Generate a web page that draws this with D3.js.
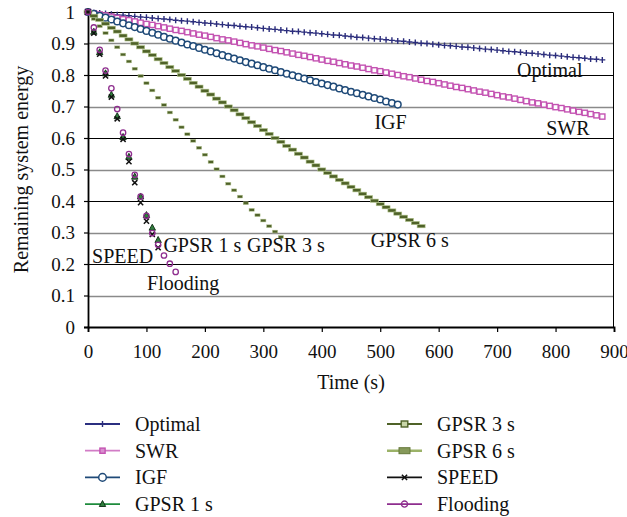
<!DOCTYPE html>
<html>
<head>
<meta charset="utf-8">
<script src="https://cdn.jsdelivr.net/npm/d3@7"></script>
<style>
  body { margin: 0; background: #fff; }
  svg { display: block; font-family: "Liberation Serif", "DejaVu Serif", serif; }
</style>
</head>
<body>
<svg id="chart" width="627" height="517"></svg>
<script>
// sample times (s), every series uses the first N of them
var times = [0,10,20,30,40,50,60,70,80,90,100,110,120,130,140,150,160,170,180,190,
  200,210,220,230,240,250,260,270,280,290,300,310,320,330,340,350,360,370,380,390,
  400,410,420,430,440,450,460,470,480,490,500,510,520,530,540,550,560,570,580,590,
  600,610,620,630,640,650,660,670,680,690,700,710,720,730,740,750,760,770,780,790,
  800,810,820,830,840,850,860,870,880];

var optimal = [1.000,0.998,0.997,0.995,0.993,0.991,0.990,0.988,0.986,0.984,
  0.983,0.981,0.979,0.978,0.976,0.974,0.972,0.971,0.969,0.967,
  0.965,0.964,0.962,0.960,0.958,0.957,0.955,0.953,0.952,0.950,
  0.948,0.946,0.945,0.943,0.941,0.939,0.938,0.936,0.934,0.933,
  0.931,0.929,0.927,0.926,0.924,0.922,0.920,0.919,0.917,0.915,
  0.914,0.912,0.910,0.908,0.907,0.905,0.903,0.901,0.900,0.898,
  0.896,0.894,0.893,0.891,0.889,0.888,0.886,0.884,0.882,0.881,
  0.879,0.877,0.875,0.874,0.872,0.870,0.869,0.867,0.865,0.863,
  0.862,0.860,0.858,0.856,0.855,0.853,0.851,0.850,0.848];

var swr = [1.000,0.996,0.992,0.989,0.985,0.981,0.977,0.974,0.970,0.966,
  0.962,0.959,0.955,0.951,0.947,0.943,0.940,0.936,0.932,0.928,
  0.925,0.921,0.917,0.913,0.910,0.906,0.902,0.898,0.894,0.891,
  0.887,0.883,0.879,0.876,0.872,0.868,0.864,0.861,0.857,0.853,
  0.849,0.845,0.842,0.838,0.834,0.830,0.827,0.823,0.819,0.815,
  0.812,0.808,0.804,0.800,0.796,0.793,0.789,0.785,0.781,0.778,
  0.774,0.770,0.766,0.762,0.759,0.755,0.751,0.747,0.744,0.740,
  0.736,0.732,0.729,0.725,0.721,0.717,0.713,0.710,0.706,0.702,
  0.698,0.695,0.691,0.687,0.683,0.680,0.676,0.672,0.668];

var igf = [1.000,0.994,0.988,0.982,0.976,0.970,0.964,0.958,0.952,0.946,
  0.940,0.934,0.928,0.921,0.915,0.909,0.903,0.897,0.892,0.886,
  0.880,0.875,0.869,0.863,0.858,0.852,0.847,0.841,0.836,0.831,
  0.825,0.820,0.815,0.809,0.804,0.799,0.794,0.789,0.783,0.778,
  0.773,0.768,0.763,0.757,0.752,0.747,0.742,0.737,0.732,0.727,
  0.722,0.716,0.711,0.706];

var gpsr1 = [1.000,0.937,0.872,0.805,0.737,0.669,0.603,0.540,0.477,0.414,0.355,0.315,0.276];

var gpsr3 = [1.000,0.978,0.955,0.933,0.910,0.888,0.865,0.843,0.820,0.797,
  0.774,0.751,0.728,0.705,0.681,0.658,0.634,0.612,0.591,0.569,
  0.547,0.524,0.501,0.478,0.455,0.434,0.414,0.393,0.372,0.355,
  0.338,0.320,0.303,0.286];

var gpsr6 = [1.000,0.988,0.975,0.963,0.950,0.938,0.925,0.913,0.900,0.888,
  0.875,0.863,0.850,0.838,0.825,0.813,0.800,0.788,0.775,0.763,
  0.750,0.738,0.725,0.713,0.700,0.688,0.675,0.663,0.650,0.638,
  0.625,0.613,0.600,0.588,0.575,0.563,0.550,0.538,0.525,0.513,
  0.500,0.489,0.478,0.467,0.456,0.445,0.434,0.423,0.412,0.401,
  0.390,0.380,0.370,0.360,0.350,0.340,0.330,0.320];

var speed = [1.000,0.933,0.866,0.797,0.730,0.661,0.596,0.525,0.458,0.395,0.336,0.294,0.252];

var flooding = [1.000,0.951,0.880,0.814,0.758,0.692,0.617,0.549,0.483,0.414,
  0.353,0.298,0.261,0.227,0.201,0.175];

var seriesNames = ["Optimal", "SWR", "IGF", "GPSR 1 s", "GPSR 3 s", "GPSR 6 s", "SPEED", "Flooding"];
var xTicks = [0, 100, 200, 300, 400, 500, 600, 700, 800, 900];
var yTicks = [0, 0.1, 0.2, 0.3, 0.4, 0.5, 0.6, 0.7, 0.8, 0.9, 1];
var yTickLabels = ["0", "0.1", "0.2", "0.3", "0.4", "0.5", "0.6", "0.7", "0.8", "0.9", "1"];

// label spots in data units (time, energy) for the names written inside the plot
var labelTimes = [734, 784, 490, 129, 272, 484, 7, 101];
var labelValues = [0.794, 0.610, 0.628, 0.239, 0.239, 0.253, 0.202, 0.119];

var svg = d3.select("svg#chart");

var margin = { top: 12, right: 13, bottom: 190, left: 88 };
var plotWidth = 627 - margin.left - margin.right;
var plotHeight = 517 - margin.top - margin.bottom;

var x = d3.scaleLinear().domain([0, 900]).range([0, plotWidth]);
var y = d3.scaleLinear().domain([0, 1]).range([plotHeight, 0]);

var plot = svg.append("g")
    .attr("transform", "translate(" + margin.left + "," + margin.top + ")");

// gridlines, alternating grey and black like the original
plot.append("g").selectAll("line")
    .data(yTicks.slice(1, 10))
    .join("line")
    .attr("x1", 0)
    .attr("x2", plotWidth)
    .attr("y1", function(d) { return Math.round(y(d)) + 0.5; })
    .attr("y2", function(d) { return Math.round(y(d)) + 0.5; })
    .attr("stroke", function(d, i) { return i % 2 == 0 ? "#8a8a8a" : "#000"; })
    .attr("stroke-width", function(d, i) { return i % 2 == 0 ? 1.6 : 1; });

// top and right border
plot.append("path")
    .attr("d", "M0,0.5H" + (plotWidth - 0.5) + "V" + plotHeight)
    .attr("fill", "none")
    .attr("stroke", "#000")
    .attr("stroke-width", 1);

var xAxis = d3.axisBottom(x).tickValues(xTicks).tickSizeOuter(0).tickSize(5).tickPadding(4);
var yAxis = d3.axisLeft(y).tickValues(yTicks).tickSizeOuter(0).tickSize(4).tickPadding(9)
    .tickFormat(function(d, i) { return yTickLabels[i]; });

var xGroup = plot.append("g")
    .attr("transform", "translate(0," + plotHeight + ")")
    .call(xAxis);
var yGroup = plot.append("g").call(yAxis);

[xGroup, yGroup].forEach(function(g) {
    g.selectAll("path.domain").attr("stroke", "#000").attr("stroke-width", 1.8);
    g.selectAll(".tick line").attr("stroke", "#000").attr("stroke-width", 1.2);
    g.selectAll(".tick text")
        .attr("fill", "#111")
        .style("font-family", "Liberation Serif, serif")
        .style("font-size", "19px");
});
xGroup.selectAll(".tick text").attr("y", 18).attr("dy", "0.71em");

// markers
var markerStyles = [
    { kind: "plus", color: "#2b2d7c" },
    { kind: "square", color: "#c453b2" },
    { kind: "circle", color: "#1f4a78" },
    { kind: "triangle", color: "#1f6b2c" },
    { kind: "dashSmall", color: "#4f6228" },
    { kind: "dashBig", color: "#4f6228" },
    { kind: "x", color: "#111" },
    { kind: "ring", color: "#8e2d8e" }
];
var legendLines = ["#2b2f80", "#d27cc6", "#1f4a78", "#1e8b3c", "#4f6228", "#9bb268", "#111", "#8e2d8e"];

function drawMarker(g, kind, color, big) {
    var s = big ? 1.15 : 1;
    if (kind == "plus") {
        g.append("path").attr("d", "M-3,0H3M0,-3V3")
            .attr("stroke", color).attr("stroke-width", 1.4).attr("fill", "none");
    } else if (kind == "square") {
        g.append("rect").attr("x", -2.6).attr("y", -2.6).attr("width", 5.2).attr("height", 5.2)
            .attr("fill", big ? "#d98fcf" : "#fff").attr("stroke", color).attr("stroke-width", 1.4);
    } else if (kind == "circle") {
        g.append("circle").attr("r", 3.3 * s)
            .attr("fill", "#fff").attr("stroke", color).attr("stroke-width", 1.5);
    } else if (kind == "triangle") {
        g.append("path").attr("d", "M0,-3.6L3.2,2.4L-3.2,2.4Z")
            .attr("fill", "#2f7d3c").attr("stroke", "#0c2a12").attr("stroke-width", 0.9);
    } else if (kind == "dashSmall") {
        if (big) {
            g.append("rect").attr("x", -3.3).attr("y", -3).attr("width", 6.6).attr("height", 6)
                .attr("fill", "#c9d6a8").attr("stroke", color).attr("stroke-width", 1.4);
        } else {
            g.append("rect").attr("x", -2.6).attr("y", -1.4).attr("width", 5.2).attr("height", 2.8)
                .attr("fill", color).attr("stroke", "#b8c798").attr("stroke-width", 0.5);
        }
    } else if (kind == "dashBig") {
        if (big) {
            g.append("rect").attr("x", -5.5).attr("y", -3).attr("width", 11).attr("height", 6)
                .attr("fill", "#86995a").attr("stroke", "#65783a").attr("stroke-width", 1);
        } else {
            g.append("rect").attr("x", -4).attr("y", -1.6).attr("width", 8).attr("height", 3.2)
                .attr("fill", color).attr("stroke", "#b0c28a").attr("stroke-width", 0.6);
        }
    } else if (kind == "x") {
        g.append("path").attr("d", "M-2.6,-2.6L2.6,2.6M-2.6,2.6L2.6,-2.6")
            .attr("stroke", color).attr("stroke-width", 1.5).attr("fill", "none");
    } else if (kind == "ring") {
        g.append("circle").attr("r", 2.7 * s)
            .attr("fill", "none").attr("stroke", color).attr("stroke-width", 1.3);
    }
}

var allSeries = [optimal, swr, igf, gpsr1, gpsr3, gpsr6, speed, flooding];

allSeries.forEach(function(values, si) {
    var st = markerStyles[si];
    plot.append("g").selectAll("g")
        .data(values)
        .join("g")
        .attr("transform", function(d, i) { return "translate(" + x(times[i]) + "," + y(d) + ")"; })
        .each(function() { drawMarker(d3.select(this), st.kind, st.color, false); });
});

// names written inside the plot
plot.append("g").selectAll("text")
    .data(seriesNames)
    .join("text")
    .attr("x", function(d, i) { return x(labelTimes[i]); })
    .attr("y", function(d, i) { return y(labelValues[i]); })
    .style("font-size", "20px")
    .attr("fill", "#111")
    .text(function(d) { return d; });

// axis titles
svg.append("text")
    .attr("x", margin.left + plotWidth / 2)
    .attr("y", 389)
    .style("font-size", "20px")
    .style("text-anchor", "middle")
    .attr("fill", "#111")
    .text("Time (s)");

svg.append("text")
    .attr("transform", "translate(28," + (margin.top + plotHeight / 2) + ") rotate(-90)")
    .style("font-size", "20px")
    .style("text-anchor", "middle")
    .attr("fill", "#111")
    .text("Remaining system energy");

// legend, two columns of four
var legend = svg.append("g");
seriesNames.forEach(function(name, i) {
    var col = i < 4 ? 0 : 1;
    var row = i % 4;
    var lx = col == 0 ? 85 : 387;
    var cy = 424 + row * 26.7;
    var item = legend.append("g").attr("transform", "translate(" + lx + "," + cy + ")");
    item.append("line")
        .attr("x1", 0).attr("x2", 35).attr("y1", 0).attr("y2", 0)
        .attr("stroke", legendLines[i])
        .attr("stroke-width", i == 5 ? 2.4 : 1.8);
    var m = item.append("g").attr("transform", "translate(17.5,0)");
    drawMarker(m, markerStyles[i].kind, markerStyles[i].color, true);
    item.append("text")
        .attr("x", 50)
        .attr("y", 6.8)
        .style("font-size", "20px")
        .attr("fill", "#111")
        .text(name);
});
</script>
</body>
</html>
